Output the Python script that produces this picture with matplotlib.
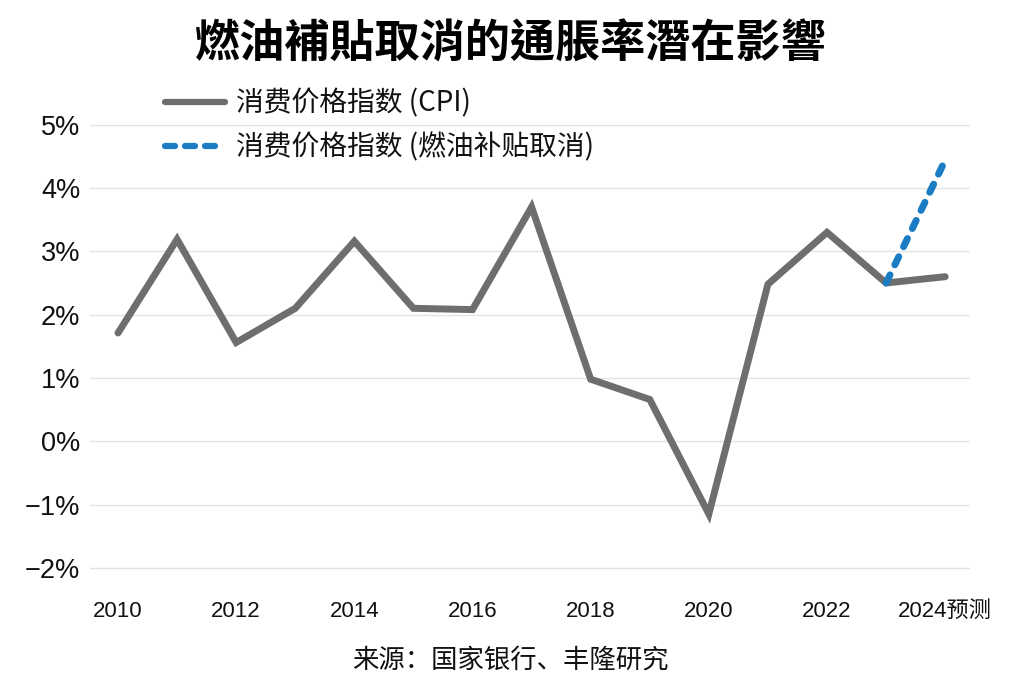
import matplotlib
matplotlib.use("Agg")
import matplotlib.pyplot as plt
from matplotlib import font_manager as fm
from matplotlib.lines import Line2D

years = [2010, 2011, 2012, 2013, 2014, 2015, 2016, 2017, 2018, 2019, 2020, 2021, 2022, 2023, 2024]
cpi = [1.71, 3.19, 1.56, 2.10, 3.16, 2.10, 2.08, 3.70, 0.98, 0.66, -1.15, 2.48, 3.30, 2.50, 2.60]
scen_years = [2023, 2024]
scen_vals = [2.50, 4.44]
xtick_pos = [2010, 2012, 2014, 2016, 2018, 2020, 2022, 2024]
xtick_labels = ["2010", "2012", "2014", "2016", "2018", "2020", "2022", "2024预测"]
ytick_pos = [-2, -1, 0, 1, 2, 3, 4, 5]
ytick_labels = ["−2%", "−1%", "0%", "1%", "2%", "3%", "4%", "5%"]
title = "燃油補貼取消的通脹率潛在影響"
legend_labels = ["消费价格指数 (CPI)", "消费价格指数 (燃油补贴取消)"]
source = "来源：国家银行、丰隆研究"

names = {f.name for f in fm.fontManager.ttflist}
narrow = "Liberation Sans Narrow" if "Liberation Sans Narrow" in names else "Liberation Sans"
latin = "Liberation Sans"

fig = plt.figure(figsize=(10.25, 6.9), dpi=100)
ax = fig.add_axes([90/1025, 1-590/690, 880/1025, 495/690])

gray = "#6e6e6e"
blue = "#1b7cc4"
ax.plot(years, cpi, color=gray, lw=5, solid_joinstyle="miter", solid_capstyle="round", zorder=3)
ax.plot(scen_years, scen_vals, color=blue, lw=5, ls=(0, (1.3, 1.6)),
        dash_capstyle="round", zorder=4)

ax.set_xlim(2009.526, 2024.42)
ax.set_ylim(-2.35, 5.47)
ax.set_yticks(ytick_pos)
ax.set_yticklabels(ytick_labels, family=[latin, "DejaVu Sans"], fontsize=19.5)
ax.set_xticks(xtick_pos)
ax.set_xticklabels(xtick_labels, family=[narrow, "Noto Sans CJK SC"], fontsize=16)
ax.tick_params(axis="both", length=0, colors="#111111")
ax.tick_params(axis="y", pad=7)
ax.tick_params(axis="x", pad=8)
ax.grid(axis="y", color="#e3e3e3", lw=1)
ax.set_axisbelow(True)
for s in ax.spines.values():
    s.set_visible(False)

handles = [Line2D([], [], color=gray, lw=4.5, solid_capstyle="round"),
           Line2D([], [], color=blue, lw=4.5, ls=(0, (1.6, 1.6)), dash_capstyle="round")]
leg = fig.legend(handles, legend_labels, loc="upper left", bbox_to_anchor=(0.150, 0.888),
                 bbox_transform=fig.transFigure, borderaxespad=0,
                 frameon=False, handlelength=2.15, handletextpad=0.4, labelspacing=0.5,
                 prop={"family": ["Noto Sans CJK SC", "DejaVu Sans"], "size": 20})
for t in leg.get_texts():
    t.set_color("#111111")

fig.text(0.498, 1-45/690, title, ha="center", va="center", fontsize=32.5,
         family=["Noto Sans CJK TC", "Noto Sans CJK SC"], weight="black")
fig.text(0.498, 1-660/690, source, ha="center", va="center", fontsize=19,
         family=["Noto Sans CJK SC"], color="#111111")

fig.savefig("out.png", dpi=100, facecolor="white")
